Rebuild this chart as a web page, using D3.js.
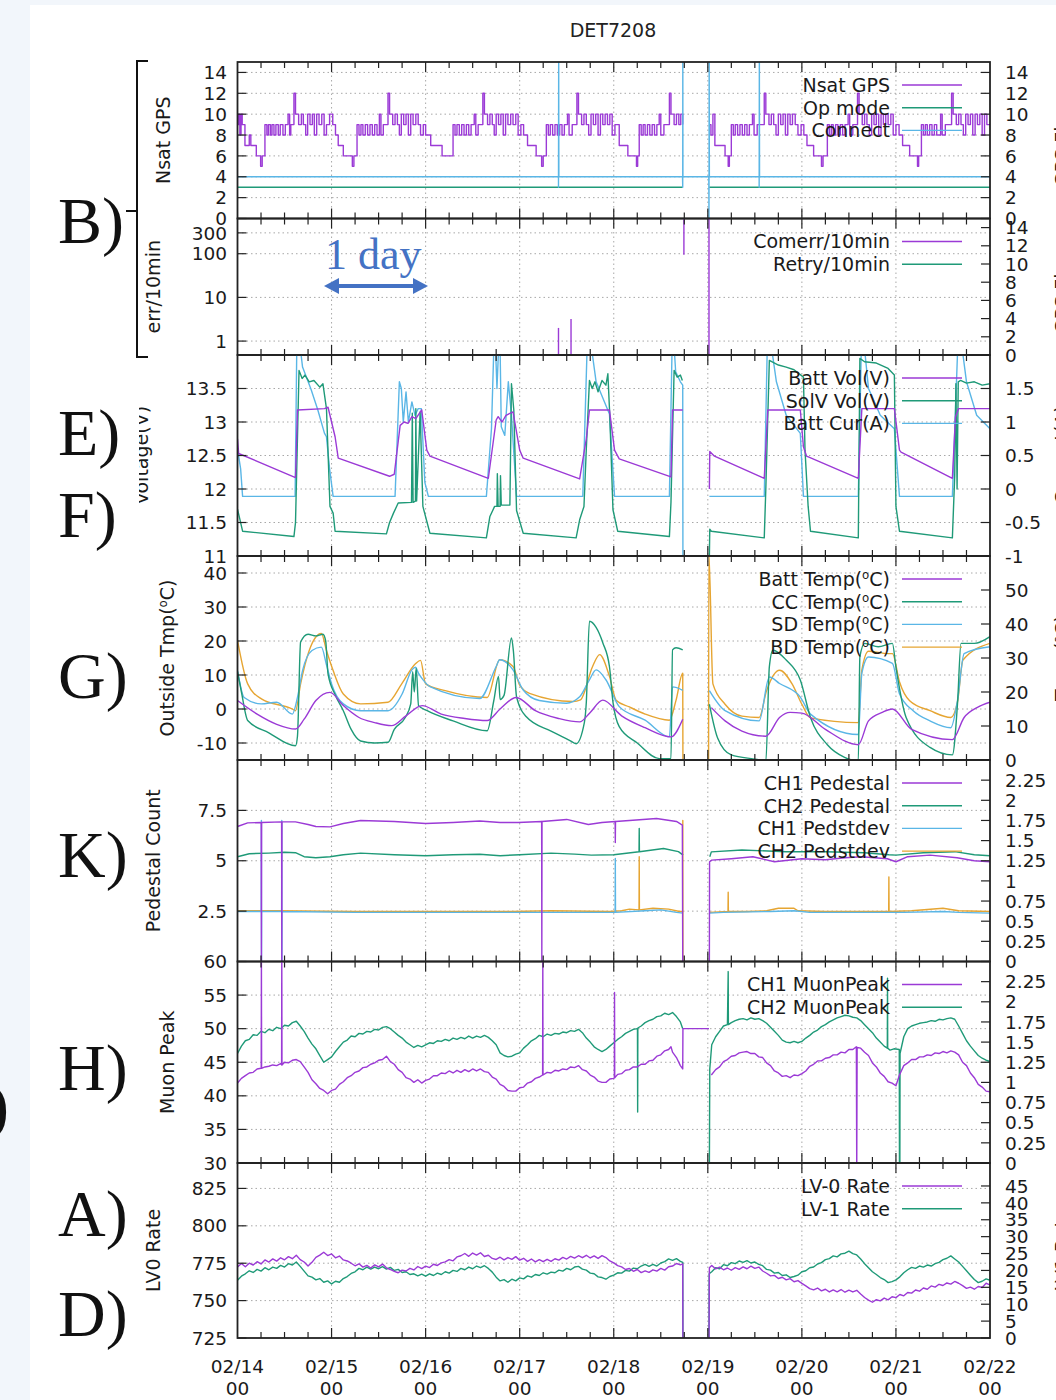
<!DOCTYPE html>
<html>
<head>
<meta charset="utf-8">
<script src="https://cdn.jsdelivr.net/npm/d3@7"></script>
<style>
  body { margin: 0; background: #f2f6fb; }
  text { font-family: "DejaVu Sans", sans-serif; }
</style>
</head>
<body>
<div id="chart"></div>
<script>
// ---- data (t = hours since 02/14 00) ----
var dayLabels = ["02/14", "02/15", "02/16", "02/17", "02/18", "02/19", "02/20", "02/21", "02/22"];

var nsatGPS = [[0,9],[0.3,10],[0.6,8],[0.9,10],[1.2,9],[1.9,7],[3.0,8],[3.4,7],[4.8,6],[5.9,5],[6.3,6],[7.0,9],[7.5,8],[7.9,9],[8.4,8],[8.8,9],[9.3,8],[9.8,9],[10.4,8],[10.9,9],[11.6,8],[12.2,9],[12.9,10],[13.3,8],[13.6,9],[14.4,12],[14.8,10],[15.6,9],[16.3,10],[16.8,9],[17.4,8],[17.9,10],[18.5,9],[19.1,10],[19.6,8],[20.2,10],[20.8,9],[21.5,10],[22.1,8],[22.7,9],[23.5,10],
  [24.3,9],[25.0,8],[25.7,7],[27.0,6],[29.3,5],[29.7,6],[30.5,9],[31.0,8],[31.5,9],[32.0,8],[32.6,9],[33.2,8],[33.8,9],[34.4,8],[35.0,9],[35.6,8],[36.2,10],[36.6,8],[37.2,9],[38.4,12],[38.8,10],[39.6,9],[40.2,10],[40.8,9],[41.3,8],[41.8,10],[42.4,9],[43.0,10],[43.6,8],[44.2,10],[44.8,9],[45.5,10],[46.1,9],[46.7,8],[47.4,9],
  [48.0,8],[49.3,7],[52.2,6],[55.0,9],[55.5,8],[56.0,9],[56.6,8],[57.2,9],[57.8,8],[58.4,9],[59.0,8],[59.6,9],[60.4,10],[60.8,8],[61.4,9],[62.6,12],[63.0,10],[63.8,9],[64.4,10],[65.0,9],[65.5,8],[66.0,10],[66.6,9],[67.2,10],[67.8,8],[68.4,10],[69.0,9],[69.7,10],[70.3,9],[71.0,10],[71.6,8],[72.3,9],[73.0,8],
  [74.0,7],[76.2,6],[77.6,5],[78.0,6],[78.8,9],[79.3,8],[79.8,9],[80.4,8],[81.0,9],[81.6,8],[82.2,9],[82.8,8],[83.4,9],[84.2,10],[84.6,8],[85.4,9],[86.6,12],[87.0,10],[87.8,9],[88.4,10],[89.0,9],[89.6,8],[90.2,10],[90.8,9],[91.4,10],[92.0,8],[92.6,10],[93.2,9],[93.8,10],[94.4,9],[95.0,10],[95.6,8],[96.3,9],
  [97.4,7],[99.6,6],[101.8,5],[102.1,6],[102.5,9],[103.0,8],[103.5,9],[104.0,8],[104.6,9],[105.2,8],[105.8,9],[106.4,8],[107.0,9],[107.6,10],[108.0,8],[108.8,9],[110.2,12],[110.6,10],[111.4,9],[112.0,10],[112.6,9],[113.1,10],[113.6,9],[113.65,null],
  [120.3,9],[120.8,8],[121.3,10],[121.8,7],[124.4,6],[125.2,5],[125.5,6],[126.0,9],[126.5,8],[127.0,9],[127.6,8],[128.2,9],[128.8,8],[129.4,9],[130.0,8],[130.6,9],[131.4,10],[131.8,8],[132.6,9],[134.4,12],[134.8,10],[135.6,9],[136.2,10],[136.8,9],[137.4,8],[138.0,10],[138.6,9],[139.2,10],[139.8,8],[140.4,10],[141.0,9],[141.6,10],[142.3,9],[143.0,8],[143.8,9],[144.5,8],
  [145.3,7],[147.0,6],[149.0,5],[149.4,6],[150.5,9],[151.0,8],[151.5,9],[152.0,8],[152.6,9],[153.2,8],[153.8,9],[154.4,8],[155.0,9],[155.8,10],[156.2,8],[157.0,9],[158.2,12],[158.6,10],[159.4,9],[160.0,10],[160.6,9],[161.2,8],[161.8,10],[162.4,9],[163.0,10],[163.6,8],[164.2,10],[164.8,9],[165.4,10],[166.0,9],[166.7,10],[167.3,8],[168.0,9],[168.8,8],
  [169.7,7],[171.5,6],[173.5,5],[173.8,6],[174.5,9],[175.0,8],[175.5,9],[176.0,8],[176.6,9],[177.2,8],[177.8,9],[178.4,8],[179.4,10],[179.8,8],[180.6,9],[182.2,12],[182.6,10],[183.4,9],[184.0,10],[184.6,9],[185.2,8],[185.8,10],[186.4,9],[187.0,10],[187.6,8],[188.2,10],[188.8,9],[189.4,10],[190.0,8],[190.6,10],[191.2,9],[192,9]];

var opMode = [[0,3],[113.6,3],[113.65,null],[120.35,3],[192,3]];
var connect = [[0,4],[81.9,4],[81.9,3],[81.95,16],[82.0,4],[113.55,4],[113.6,3],[113.62,16],[113.65,4],[120.25,4],[120.3,0],[120.35,16],[120.4,4],[133.1,4],[133.1,3],[133.15,16],[133.2,4],[192,4]];

// [t, low, high]
var comerrSpikes = [[81.9,0.4,2.0],[85.1,0.4,3.2],[113.9,95,700],[120.3,0.4,700]];

var battVol = [[0,12.75],[0.3,12.53],[14.8,12.17],[15.3,13.18],[22.2,13.2],[23.1,13.22],[24.9,12.78],[25.7,12.46],[38.8,12.19],[40.0,12.22],[41.5,12.95],[42.5,13.0],[43.5,12.98],[44.5,13.08],[45.5,13.05],[47.0,13.18],[48.3,12.58],[49.1,12.49],[64.0,12.16],[66.0,13.03],[66.5,13.08],[67.5,13.0],[68.5,13.1],[70.3,13.15],[72.0,12.58],[72.9,12.46],[87.3,12.15],[89.0,12.75],[89.8,13.18],[94.9,13.18],[96.2,12.58],[97.4,12.45],[110.6,12.18],[111.0,13.18],[113.6,13.18],[113.65,null],
  [120.4,12.0],[120.5,12.56],[121.7,12.49],[134.4,12.16],[135.3,13.18],[143.6,13.18],[144.4,12.63],[145.2,12.49],[158.4,12.16],[159.3,13.2],[167.6,13.2],[168.9,12.58],[169.3,12.55],[182.4,12.16],[183.2,13.08],[184,13.2],[192,13.2]];

var solVol = [[0,11.7],[1.3,11.37],[14.4,11.29],[14.8,11.5],[15.7,13.77],[16.5,13.65],[17.2,13.7],[18.3,13.6],[19.5,13.62],[21.0,13.52],[21.8,13.57],[22.7,13.2],[23.6,11.74],[24.4,11.64],[24.9,11.37],[38.0,11.33],[38.8,11.5],[39.8,11.64],[41.0,11.79],[44.4,11.8],[44.6,13.13],[44.8,11.8],[45.4,11.82],[45.5,13.2],[45.7,11.82],[46.6,13.15],[47.3,11.74],[49.1,11.34],[63.5,11.27],[64.4,11.59],[65.6,11.74],[66.2,11.74],[66.3,12.23],[66.5,11.74],[67.0,11.74],[67.1,12.2],[67.3,11.76],[69.5,11.76],[69.9,13.57],[70.5,13.18],[71.2,11.68],[72.9,11.34],[86.4,11.27],[87.3,11.54],[88.4,11.74],[89.0,12.6],[89.8,13.62],[90.5,13.5],[91.2,13.6],[92.0,13.45],[93.0,13.62],[94.0,13.55],[94.5,13.72],[95.0,13.08],[95.8,11.69],[97.0,11.37],[110.2,11.29],[110.6,11.8],[111.4,13.77],[112.2,13.67],[113.0,13.7],[113.5,13.62],[113.6,null],
  [120.4,11.0],[120.5,11.4],[120.9,11.37],[134.4,11.27],[134.8,12.0],[135.7,13.92],[138.0,13.85],[140.0,13.82],[142.0,13.78],[144.4,13.67],[144.8,12.58],[145.6,11.74],[146.2,11.37],[158.4,11.27],[158.8,13.95],[160,13.9],[163,13.88],[166,13.8],[167.6,13.7],[168.0,11.74],[168.9,11.37],[182.4,11.27],[183.0,12.2],[183.3,13.57],[183.6,12.0],[183.9,13.6],[184.5,13.62],[186,13.58],[188,13.6],[190,13.55],[192,13.57]];

var battCur = [[0,0.6],[0.8,0.3],[1.3,-0.11],[14.7,-0.11],[15.2,2.5],[16.6,1.82],[18.8,1.48],[20.5,1.18],[22.2,0.83],[22.7,0.78],[23.5,0.3],[24.4,-0.11],[40.2,-0.11],[41.3,1.6],[41.8,1.5],[42.3,1.0],[43.0,1.45],[43.6,1.0],[44.5,1.3],[45.3,1.1],[46.1,1.2],[46.9,1.2],[47.8,0.1],[48.7,-0.11],[63.5,-0.11],[64.8,0.9],[65.6,2.5],[66.2,1.5],[66.9,2.5],[67.3,0.93],[68.2,0.8],[69.1,1.6],[69.9,1.1],[71.2,-0.11],[88.1,-0.11],[89.4,2.5],[91.5,1.6],[94.9,1.12],[96.2,-0.11],[110.2,-0.11],[111.0,2.5],[111.8,1.75],[113.0,1.6],[113.6,1.55],[113.65,-1.1],[113.7,null],
  [120.4,-0.11],[134.4,-0.11],[135.3,2.5],[137.5,1.6],[140.0,1.1],[143.6,0.83],[144.4,-0.11],[158.4,-0.11],[159.3,2.5],[161,1.5],[164,1.1],[167.6,0.9],[168.9,-0.11],[182.4,-0.11],[184,2.5],[186,1.6],[188.6,1.1],[192,0.9]];

var battTemp = [[0,2.5],[5,-1.5],[10,-4.5],[14.8,-5.9],[17,-3],[20,2.5],[23.6,4.9],[27,1],[31,-2.5],[35,-4],[39.3,-4.9],[43,-2],[47.1,1.0],[52,-1.5],[58,-2.8],[63.7,-3.4],[67,0],[71.1,3.4],[76,-0.5],[82,-2.8],[87.3,-3.8],[90,-1],[93.2,2.6],[98,-2],[104,-5.5],[110.6,-8.2],[113.6,-3.0],[113.65,null],
  [120.9,0.4],[124.4,-3.5],[128.7,-6.5],[134.8,-8],[138.3,-2.5],[141,-1],[144,-1.2],[150,-6],[158.4,-10.5],[161,-3.5],[164.5,-1],[167.1,0],[172,-6],[182.4,-9],[185.4,-2.5],[188.8,0.5],[192,2]];

var ccTemp = [[0,11],[1,5],[2.6,-3.4],[8,-7],[14.8,-10.8],[15.3,-8],[16.1,19.7],[18,22],[20,21.5],[21.8,22],[22.5,20],[23.1,10.3],[25,4],[27,-0.5],[29,-6],[31.4,-9.4],[35,-10],[38.4,-9.8],[40,-6],[42.8,-2.5],[44.2,1.5],[44.7,11],[45.1,5],[45.6,12],[46.2,1],[48.4,-0.5],[55,-3.5],[63.7,-6.4],[65.4,2.5],[66.6,9.6],[67.0,2.8],[68.0,4],[69.9,20.9],[70.4,17],[71.2,3.6],[73.7,-2.3],[80,-6.5],[84.7,-9.2],[86.4,-10.2],[88.5,-4],[89.0,2],[89.8,25.8],[91.5,24],[93.2,19.5],[94.9,12.5],[95.8,2],[97.4,-5.2],[102,-10],[107.6,-14.6],[110.6,-14.6],[111.0,17.4],[111.9,18],[113.6,17.4],[113.65,null],
  [120.4,1.4],[122.5,-8.5],[126,-13.5],[133.1,-15],[134.8,-15.5],[135.7,12.4],[136.6,17.3],[140,14.4],[143.6,8.5],[146.2,-2.5],[150.5,-10.5],[154.9,-14.2],[158.4,-15.2],[158.8,15.3],[160,19.3],[163.5,18.3],[167.1,19.3],[168,12.3],[170.6,-2.5],[176.7,-11.3],[182.4,-13.5],[183.7,1.4],[184.6,19.3],[188,19.3],[192,21.3]];

var sdTemp = [[0,11.3],[1.7,3.4],[6.1,1.5],[10,2],[14,-1.5],[15.3,3.4],[16.6,11.3],[19,17.2],[21.4,18.2],[22.7,13],[24,7.4],[27,1.5],[31.4,-0.5],[38.4,-0.5],[42,4.4],[44.5,11.5],[45.4,12.3],[46.2,10.5],[47.4,8.5],[49.1,6.6],[61.8,3.1],[66,12.5],[66.9,14.5],[70.3,11.5],[72.9,5.6],[77,2.5],[83.9,1.7],[87.3,3.6],[89.8,8.6],[91.5,11.5],[94,8.6],[97.4,0.7],[104,-3.3],[110.2,-8.2],[111.0,6.5],[113.6,5.5],[113.65,null],
  [120.4,5.4],[124.4,-0.5],[133.1,-3.5],[135.7,9.4],[138.3,7.5],[143.6,3.5],[146.2,-1.5],[158.4,-7.5],[159.3,10.5],[161,15.3],[167.1,13.4],[168.9,4.5],[172.4,-0.5],[176.7,-3.5],[182,-5.5],[183.7,2.5],[185.4,16.3],[192,18.3]];

var bdTemp = [[0,20.2],[2.6,7.4],[6.1,3],[14,0],[14.8,-0.5],[16.1,7.4],[18.3,17.2],[21.4,22.2],[22.7,17.2],[24.4,11.3],[27,4.4],[31.4,1.5],[38.4,2],[41.9,7.4],[45.4,13.3],[46.7,14.3],[48,7.4],[53,5.4],[63.7,3.4],[66.9,14.5],[70.3,12.5],[72,7],[74.5,4.6],[85.6,2.2],[87.5,2.7],[90.6,12.5],[92.4,16],[94.9,9.6],[96.6,2.6],[100,0.6],[104,-1.5],[110.2,-3.3],[111.9,2.6],[113.6,10.5],[113.65,-16],[113.7,null],
  [120.2,-16],[120.25,46],[121.3,7.4],[124.4,1.4],[128.7,-2.1],[133.1,-2.5],[135,5.4],[138.3,11.4],[141.5,7.4],[144,1.4],[146.2,-2.6],[158.4,-4],[159.3,11.4],[161,17],[166,16.3],[167.1,16.3],[168.9,8],[171.5,2.4],[176.7,-0.5],[182,-2.5],[183.7,2],[185.1,14.4],[192,19.3]];

var ch1Ped = [[0,6.7],[2.6,6.88],[6.05,6.9],[6.1,0],[6.15,6.9],[11.25,6.93],[11.3,0],[11.35,6.93],[14.8,6.93],[18,6.8],[20,6.7],[23.6,6.68],[27,6.85],[31.4,7.0],[40,6.95],[48,6.85],[55,6.9],[61.8,6.97],[67,6.9],[71.6,6.9],[77.6,6.95],[77.65,0],[77.7,6.95],[84,7.05],[89.5,6.8],[93,6.9],[96.35,6.95],[96.4,5.9],[96.45,6.95],[100,7.0],[106.9,7.1],[112,6.95],[113.5,6.77],[113.6,0],[113.65,null],
  [120.4,0],[120.45,4.95],[121,5.03],[126,5.1],[131.5,5.2],[137,4.95],[144,5.1],[150,5.05],[155,5.15],[159.3,5.2],[165.8,5.1],[168,4.95],[171,5.2],[176.7,5.28],[183.6,5.15],[188,5.0],[192,4.95]];

var ch2Ped = [[0,5.2],[3,5.35],[8,5.38],[12,5.42],[14.8,5.4],[17,5.2],[20,5.15],[23.6,5.2],[27,5.3],[31.4,5.38],[40,5.3],[48,5.25],[55,5.3],[61.8,5.32],[67,5.25],[72,5.3],[80,5.38],[86,5.33],[90.3,5.28],[96,5.3],[102.45,5.45],[102.5,6.6],[102.55,5.45],[108.7,5.61],[112.5,5.45],[113.7,5.28],[113.75,null],
  [120.5,5.2],[120.9,5.44],[128.7,5.53],[140,5.45],[150,5.45],[160,5.4],[166.2,5.3],[168,5.28],[175,5.4],[183,5.45],[188,5.3],[192,5.25]];

var ch1Pedstdev = [[0,0.62],[6.05,0.62],[6.1,1.75],[6.13,0],[6.16,0.62],[11.25,0.62],[11.3,1.75],[11.33,0],[11.36,0.62],[30,0.61],[60,0.61],[80,0.61],[96.35,0.61],[96.4,1.28],[96.45,0.61],[104,0.63],[108,0.64],[112,0.61],[113.7,0.6],[113.75,null],
  [120.4,0.6],[124,0.61],[136,0.62],[142,0.63],[146,0.61],[170,0.61],[180,0.62],[184,0.61],[192,0.6]];

var ch2Pedstdev = [[0,0.63],[10,0.63],[30,0.62],[50,0.62],[70,0.62],[80,0.63],[95,0.62],[98,0.63],[100,0.65],[102.45,0.64],[102.5,1.3],[102.55,0.64],[106,0.66],[110,0.65],[112.8,0.62],[113.6,0.62],[113.62,1.75],[113.65,0],[113.7,null],
  [120.4,0.61],[125.15,0.62],[125.2,0.86],[125.25,0.62],[130,0.62],[135,0.63],[138,0.66],[142,0.66],[143,0.63],[150,0.62],[166.15,0.62],[166.2,1.05],[166.25,0.62],[172,0.63],[180,0.66],[184,0.63],[192,0.62]];

var ch1Muon = [[0,41.9],[1,42.6],[2,43.0],[3,43.4],[4,43.5],[5,44.0],[6,44.1],[6.05,44.1],[6.1,62],[6.15,44.1],[7,44.3],[8,44.4],[9,44.6],[10,44.5],[11,44.8],[11.25,44.6],[11.3,62],[11.35,44.6],[12,45.0],[13,44.9],[14,45.3],[15,45.4],[16,45.1],[17,44.3],[18,43.5],[19,42.4],[20,41.8],[21,41.1],[22,40.8],[23,40.3],[24,40.8],[25,41.0],[26,41.7],[27,42.1],[28,42.7],[29,43.0],[30,43.5],[31,43.7],[32,44.2],[33,44.3],[34,44.7],[35,44.9],[36,45.3],[37,45.4],[38,45.9],[39,45.1],[40,44.7],[41,43.9],[42,43.5],[43,42.7],[44,42.5],[45,42.0],[46,42.4],[47,41.9],[48,42.3],[49,42.5],[50,43.0],[51,43.0],[52,43.4],[53,43.3],[54,43.7],[55,43.4],[56,43.8],[57,43.5],[58,43.9],[59,43.6],[60,44.0],[61,43.7],[62,44.0],[63,43.6],[64,43.5],[65,42.8],[66,42.5],[67,41.7],[68,41.4],[69,40.8],[70,40.7],[71,40.7],[72,41.2],[73,41.3],[74,41.9],[75,42.1],[76,42.6],[77,42.8],[77.85,43.1],[77.9,62],[77.95,43.1],[79,43.5],[80,43.4],[81,43.8],[82,43.7],[83,44.0],[84,43.9],[85,44.3],[86,44.2],[87,44.5],[88,43.9],[89,43.7],[90,43.1],[91,42.8],[92,42.2],[93,42.0],[94,42.0],[95,42.5],[96,42.6],[96.15,42.7],[96.2,55.4],[96.25,42.7],[97,43.2],[98,43.3],[99,43.8],[100,43.9],[101,44.3],[102,44.3],[103,44.7],[104,44.7],[105,45.2],[106,45.3],[107,45.9],[108,46.1],[109,46.7],[110,46.9],[110.6,47.3],[111,46.5],[112,45.7],[113,44.5],[113.6,44],[113.65,50],[120.3,50],[120.35,null],
  [120.9,43.1],[122,43.9],[123,44.3],[124,45.1],[125,45.4],[126,45.9],[127,46.0],[128,46.4],[129,46.5],[130,46.6],[131,46.3],[132,46.3],[133,45.8],[134,45.7],[135,44.9],[136,44.5],[137,43.7],[138,43.4],[139,42.9],[140,43.0],[141,42.7],[142,43.1],[143,43.0],[144,43.3],[145,43.7],[146,44.4],[147,44.7],[148,45.2],[149,45.2],[150,45.6],[151,45.7],[152,46.1],[153,46.1],[154,46.5],[155,46.4],[156,46.9],[157,46.9],[157.9,47.3],[158,29],[158.1,47.2],[159,47.1],[160,46.5],[161,46.0],[162,44.9],[163,44.3],[164,43.4],[165,42.9],[166,42.1],[167,41.9],[168,41.5],[168.9,43.1],[170,44.5],[171,44.9],[172,45.4],[173,45.4],[174,45.8],[175,45.8],[176,46.1],[177,46.0],[178,46.4],[179,46.3],[180,46.6],[181,46.4],[182,46.7],[183,46.5],[184,46.1],[185,45.0],[186,44.5],[187,43.4],[188,42.7],[189,41.7],[190,41.3],[191,40.7],[192,40.6]];

var ch2Muon = [[0,46.3],[1,47.4],[2,48.2],[3,48.4],[4,49.1],[5,49.0],[6,49.6],[7,49.4],[8,49.9],[9,49.7],[10,50.2],[11,50.0],[12,50.5],[13,50.4],[14,50.9],[15,51.1],[16,50.4],[17,49.6],[18,48.6],[19,47.7],[20,47.0],[21,46.0],[22,45.0],[23,45.4],[24,45.8],[25,46.6],[26,47.3],[27,48.0],[28,48.3],[29,48.9],[30,48.8],[31,49.3],[32,49.2],[33,49.6],[34,49.5],[35,49.9],[36,49.8],[37,50.2],[38,50.3],[39,50.0],[40,49.5],[41,49.0],[42,48.6],[43,48.0],[44,47.6],[45,47.2],[46,47.5],[47,47.3],[48,47.6],[49,47.9],[50,47.8],[51,48.2],[52,48.1],[53,48.4],[54,48.2],[55,48.6],[56,48.4],[57,48.7],[58,48.5],[59,48.9],[60,48.6],[61,48.9],[62,48.7],[63,49.0],[64,48.7],[65,48.2],[66,47.6],[67,46.4],[68,46.0],[69,45.8],[70,45.9],[71,46.2],[72,46.4],[73,47.1],[74,47.6],[75,48.2],[76,48.5],[77,49.0],[78,48.8],[79,49.2],[80,49.0],[81,49.3],[82,49.2],[83,49.5],[84,49.4],[85,49.7],[86,49.6],[87,49.9],[88,49.4],[89,48.6],[90,48.0],[91,47.3],[92,46.9],[93,46.6],[94,46.9],[95,47.4],[96,47.9],[97,48.4],[98,48.8],[99,49.3],[100,49.6],[101,49.9],[102,50.0],[102.05,50.0],[102.1,37.6],[102.15,50.1],[103,50.4],[104,50.9],[105,51.2],[106,51.4],[107,51.8],[108,51.9],[109,52.3],[110,52.1],[111,52.4],[112,51.8],[113,51.0],[113.6,50.0],[113.65,null],
  [120.3,29],[120.4,29],[120.5,44],[121,47.6],[122,48.8],[123,49.6],[124,50.4],[125,50.6],[125.2,58.5],[125.25,50.6],[126,50.9],[127,51.2],[128,51.4],[129,51.5],[130,51.3],[131,51.6],[132,51.4],[133,51.5],[134,51.2],[135,50.8],[136,50.2],[137,49.6],[138,49.0],[139,48.3],[140,48.0],[141,47.9],[142,48.1],[143,47.9],[144,48.1],[145,48.6],[146,49.0],[147,49.5],[148,49.8],[149,50.3],[150,50.6],[151,51.0],[152,51.3],[153,51.6],[154,51.8],[155,52.0],[156,51.9],[157,51.7],[158,51.6],[159,51.2],[160,50.6],[161,50.0],[162,49.4],[163,48.6],[164,48.0],[165,47.4],[165.8,47.1],[165.85,57.5],[165.9,47.1],[166.5,46.8],[167.5,47.0],[168.85,46.9],[168.9,29],[169,29],[169.05,46.3],[170,48.8],[171,50.0],[172,50.4],[173,50.6],[174,50.8],[175,50.9],[176,51.0],[177,51.2],[178,51.1],[179,51.4],[180,51.3],[181,51.5],[182,51.6],[183,51.4],[184,50.4],[185,49.3],[186,48.2],[187,47.4],[188,46.7],[189,46.0],[190,45.6],[191,45.3],[192,45.1]];

var lv0Rate = [[0,772.5],[1,774.8],[2,772.6],[3,775.0],[4,773.8],[5,776.0],[6,774.5],[7,777.2],[8,775.8],[9,777.9],[10,776.4],[11,778.6],[12,777.3],[13,779.4],[14,778.0],[15,780.3],[16,777.4],[17,775.8],[18,773.2],[19,775.6],[20,778.9],[21,780.4],[22,782.3],[23,780.1],[24,781.2],[25,778.6],[26,779.8],[27,777.2],[28,776.5],[29,775.0],[30,773.3],[31,774.6],[32,772.4],[33,773.5],[34,771.8],[35,773.9],[36,772.6],[37,774.4],[38,771.9],[39,770.8],[40,769.5],[41,768.6],[42,770.4],[43,769.8],[44,771.6],[45,770.5],[46,772.8],[47,771.4],[48,773.0],[49,772.1],[50,774.3],[51,773.5],[52,775.2],[53,775.9],[54,777.4],[55,776.6],[56,779.2],[57,780.0],[58,781.5],[59,779.6],[60,781.8],[61,780.4],[62,782.0],[63,779.5],[64,780.3],[65,778.2],[66,777.5],[67,779.0],[68,777.2],[69,778.8],[70,777.6],[71,779.4],[72,777.0],[73,778.3],[74,776.2],[75,777.8],[76,775.9],[77,777.4],[78,776.0],[79,777.6],[80,776.2],[81,778.0],[82,777.1],[83,778.9],[84,777.8],[85,779.6],[86,778.4],[87,780.0],[88,778.7],[89,780.3],[90,778.5],[91,779.9],[92,778.2],[93,780.1],[94,778.8],[95,776.5],[96,775.2],[97,773.4],[98,772.6],[99,770.8],[100,771.5],[101,769.6],[102,770.8],[103,768.7],[104,769.9],[105,768.9],[106,770.6],[107,769.7],[108,771.5],[109,770.4],[110,772.6],[111,773.1],[112,774.8],[113,773.9],[113.6,774.5],[113.65,720],[113.7,null],
  [120.3,720],[120.4,771.9],[121,773.5],[122,771.2],[123,772.4],[124,770.6],[125,771.8],[126,770.3],[127,772.0],[128,770.9],[129,772.6],[130,771.3],[131,773.0],[132,771.6],[133,772.4],[134,769.8],[135,768.3],[136,766.5],[137,766.9],[138,764.8],[139,765.6],[140,763.9],[141,764.7],[142,762.6],[143,763.4],[144,761.5],[145,759.8],[146,758.0],[147,757.2],[148,758.4],[149,756.5],[150,757.6],[151,755.8],[152,757.2],[153,755.9],[154,757.4],[155,755.6],[156,757.0],[157,755.8],[158,756.9],[159,754.4],[160,752.1],[161,750.3],[162,748.9],[163,750.6],[164,749.8],[165,751.7],[166,750.5],[167,752.6],[168,752.0],[169,754.1],[170,753.2],[171,755.4],[172,755.0],[173,757.1],[174,756.3],[175,758.4],[176,757.6],[177,759.8],[178,759.0],[179,760.9],[180,760.1],[181,761.8],[182,761.0],[183,762.8],[184,761.6],[185,760.0],[186,758.2],[187,759.0],[188,757.6],[189,759.4],[190,758.8],[191,761.6],[192,760.5]];

var lv1Rate = [[0,17.1],[1,18.3],[2,19.0],[3,19.9],[4,19.4],[5,20.3],[6,19.8],[7,20.8],[8,20.2],[9,21.0],[10,20.6],[11,21.5],[12,21.0],[13,22.0],[14,21.6],[15,22.5],[16,21.2],[17,19.8],[18,18.4],[19,18.0],[20,17.2],[21,17.6],[22,16.5],[23,16.9],[24,16.0],[25,16.8],[26,16.5],[27,17.6],[28,18.2],[29,19.1],[30,19.6],[31,20.6],[32,20.2],[33,21.0],[34,20.4],[35,21.0],[36,20.5],[37,21.1],[38,20.4],[39,20.9],[40,20.0],[41,20.3],[42,19.4],[43,19.6],[44,18.8],[45,19.0],[46,18.4],[47,18.9],[48,18.3],[49,19.0],[50,18.5],[51,19.2],[52,18.8],[53,19.6],[54,19.2],[55,20.0],[56,19.7],[57,20.6],[58,20.2],[59,21.0],[60,20.5],[61,21.3],[62,20.8],[63,21.4],[64,20.6],[65,19.5],[66,18.0],[67,16.9],[68,17.3],[69,16.5],[70,17.4],[71,16.9],[72,17.8],[73,17.5],[74,18.4],[75,18.0],[76,18.8],[77,18.5],[78,19.3],[79,18.9],[80,19.5],[81,19.3],[82,20.1],[83,19.8],[84,20.6],[85,20.2],[86,21.0],[87,21.2],[88,20.4],[89,20.1],[90,19.2],[91,19.0],[92,18.1],[93,17.9],[94,17.4],[95,18.2],[96,18.6],[97,19.3],[98,19.2],[99,20.0],[100,19.8],[101,20.7],[102,20.5],[103,21.3],[104,21.8],[105,21.2],[106,21.8],[107,21.3],[108,22.2],[109,22.6],[110,23.4],[111,23.0],[112,23.5],[113,22.7],[113.6,22.4],[113.65,-2],[113.7,null],
  [120.3,-2],[120.35,19.0],[121,19.6],[122,20.8],[123,20.5],[124,21.7],[125,21.4],[126,22.3],[127,22.0],[128,22.8],[129,22.4],[130,22.9],[131,22.2],[132,22.5],[133,21.8],[134,21.4],[135,20.3],[136,20.1],[137,19.2],[138,19.4],[139,18.5],[140,18.7],[141,17.9],[142,18.2],[143,18.6],[144,19.6],[145,19.9],[146,20.8],[147,21.0],[148,21.9],[149,22.3],[150,23.2],[151,23.5],[152,24.3],[153,24.0],[154,24.9],[155,25.1],[156,25.7],[157,25.0],[158,24.6],[159,23.4],[160,22.0],[161,20.8],[162,19.6],[163,18.8],[164,17.9],[165,17.3],[166,16.4],[167,16.7],[168,17.2],[169,18.1],[170,19.3],[171,20.2],[172,20.9],[173,20.6],[174,21.3],[175,21.0],[176,21.6],[177,21.3],[178,22.0],[179,22.4],[180,23.2],[181,23.6],[182,24.3],[183,23.4],[184,22.5],[185,21.2],[186,19.9],[187,18.6],[188,17.3],[189,16.4],[190,16.8],[191,17.5],[192,17.1]];

// ---- colours ----
var purple = "#9b3ad6", green = "#1f9a78", blue = "#5ab6e6", orange = "#e6a532";

// ---- page ----
var svg = d3.select("#chart").append("svg").attr("width", 1056).attr("height", 1400);
svg.append("rect").attr("width", 1056).attr("height", 1400).attr("fill", "#f2f6fb");
svg.append("rect").attr("x", 30).attr("y", 5).attr("width", 1026).attr("height", 1395).attr("fill", "#fff");
var defs = svg.append("defs");

var xScale = d3.scaleLinear().domain([0, 192]).range([237.5, 990]);
var xLeft = 237.5, xRight = 990;

function lin(dom, top, bottom) { return d3.scaleLinear().domain(dom).range([bottom, top]); }

var panels = [
  { top: 62, bottom: 218.5, left: [0, 15], lt: d3.range(0, 15, 2), right: [0, 15], rt: d3.range(0, 15, 2),
    ylabel: "Nsat GPS", lx: 170,
    series: [{d: nsatGPS, c: purple, step: true}, {d: opMode, c: green}, {d: connect, c: blue}],
    legend: [["Nsat GPS", purple], ["Op mode", green], ["Connect", blue]] },
  { top: 218.5, bottom: 355, log: true, left: [0.48, 640], lt: [1, 10, 100, 300], right: [0, 15], rt: d3.range(0, 15, 2),
    ylabel: "err/10min", lx: 160, series: [],
    legend: [["Comerr/10min", purple], ["Retry/10min", green]] },
  { top: 355, bottom: 556, left: [11, 14], lt: [11, 11.5, 12, 12.5, 13, 13.5], right: [-1, 2], rt: [-1, -0.5, 0, 0.5, 1, 1.5],
    ylabel: "Voltage(V)", lx: 148, clipLabel: 139,
    series: [{d: battCur, c: blue, r: true}, {d: solVol, c: green}, {d: battVol, c: purple}],
    legend: [["Batt Vol(V)", purple], ["SolV Vol(V)", green], ["Batt Cur(A)", blue]] },
  { top: 556, bottom: 760, left: [-15, 45], lt: [-10, 0, 10, 20, 30, 40], right: [0, 60], rt: [0, 10, 20, 30, 40, 50],
    ylabel: "Outside Tmp(°C)", lx: 174, smooth: true,
    series: [{d: bdTemp, c: orange}, {d: sdTemp, c: blue}, {d: ccTemp, c: green}, {d: battTemp, c: purple}],
    legend: [["Batt Temp(°C)", purple], ["CC Temp(°C)", green], ["SD Temp(°C)", blue], ["BD Temp(°C)", orange]] },
  { top: 760, bottom: 961.5, left: [0, 10], lt: [2.5, 5, 7.5], right: [0, 2.5], rt: d3.range(0, 2.3, 0.25),
    ylabel: "Pedestal Count", lx: 160,
    series: [{d: ch2Pedstdev, c: orange, r: true}, {d: ch1Pedstdev, c: blue, r: true}, {d: ch2Ped, c: green}, {d: ch1Ped, c: purple}],
    legend: [["CH1 Pedestal", purple], ["CH2 Pedestal", green], ["CH1 Pedstdev", blue], ["CH2 Pedstdev", orange]] },
  { top: 961.5, bottom: 1163, left: [30, 60], lt: [30, 35, 40, 45, 50, 55, 60], right: [0, 2.5], rt: d3.range(0, 2.3, 0.25),
    ylabel: "Muon Peak", lx: 174,
    series: [{d: ch2Muon, c: green}, {d: ch1Muon, c: purple}],
    legend: [["CH1 MuonPeak", purple], ["CH2 MuonPeak", green]] },
  { top: 1163, bottom: 1338, left: [725, 842], lt: [725, 750, 775, 800, 825], right: [0, 51.8], rt: d3.range(0, 46, 5),
    ylabel: "LV0 Rate", lx: 160,
    series: [{d: lv1Rate, c: green, r: true}, {d: lv0Rate, c: purple}],
    legend: [["LV-0 Rate", purple], ["LV-1 Rate", green]] }
];

// text with a raised "o" for degrees
function richText(sel, str) {
  var parts = str.split("°");
  sel.append("tspan").text(parts[0]);
  if (parts.length > 1) {
    sel.append("tspan").attr("dy", -7).attr("font-size", "0.62em").text("o");
    sel.append("tspan").attr("dy", 7).text(parts[1]);
  }
}

// title
svg.append("text").attr("x", 613).attr("y", 37).attr("text-anchor", "middle")
  .attr("font-size", "19px").attr("fill", "#222").text("DET7208");

panels.forEach(function(p, i) {
  var yL = p.log ? d3.scaleLog().domain(p.left).range([p.bottom, p.top]) : lin(p.left, p.top, p.bottom);
  var yR = lin(p.right, p.top, p.bottom);
  var g = svg.append("g");

  defs.append("clipPath").attr("id", "clip" + i).append("rect")
    .attr("x", xLeft).attr("y", p.top).attr("width", xRight - xLeft).attr("height", p.bottom - p.top);

  // grid
  var grid = g.append("g").attr("stroke", "#a8a8a8").attr("stroke-width", 1).attr("stroke-dasharray", "1.5,3");
  d3.range(24, 192, 24).forEach(function(h) {
    grid.append("line").attr("x1", xScale(h)).attr("x2", xScale(h)).attr("y1", p.top).attr("y2", p.bottom);
  });
  p.lt.forEach(function(v) {
    var y = yL(v);
    if (Math.abs(y - p.top) < 2 || Math.abs(y - p.bottom) < 2) return;
    grid.append("line").attr("x1", xLeft).attr("x2", xRight).attr("y1", y).attr("y2", y);
  });

  // data
  var plot = g.append("g").attr("clip-path", "url(#clip" + i + ")").attr("fill", "none");
  p.series.forEach(function(s) {
    var ys = s.r ? yR : yL;
    var line = d3.line().defined(function(d) { return d[1] != null; })
      .x(function(d) { return xScale(d[0]); }).y(function(d) { return ys(d[1]); });
    if (s.step) line.curve(d3.curveStepAfter);
    else if (p.smooth) line.curve(d3.curveMonotoneX);
    plot.append("path").datum(s.d).attr("d", line)
      .attr("stroke", s.c).attr("stroke-width", 1.4).attr("stroke-linejoin", "round");
  });
  if (i === 1) {
    plot.selectAll(".spike").data(comerrSpikes).enter().append("line")
      .attr("x1", function(d) { return xScale(d[0]); }).attr("x2", function(d) { return xScale(d[0]); })
      .attr("y1", function(d) { return yL(d[1]); }).attr("y2", function(d) { return yL(d[2]); })
      .attr("stroke", purple).attr("stroke-width", 1.4);
  }

  // x ticks (top and bottom, inward)
  var tk = g.append("g").attr("stroke", "#222").attr("stroke-width", 1.2);
  d3.range(6, 192, 6).forEach(function(h) {
    var len = h % 24 === 0 ? 10 : 6;
    tk.append("line").attr("x1", xScale(h)).attr("x2", xScale(h)).attr("y1", p.top).attr("y2", p.top + len);
    tk.append("line").attr("x1", xScale(h)).attr("x2", xScale(h)).attr("y1", p.bottom).attr("y2", p.bottom - len);
  });
  // y ticks
  p.lt.forEach(function(v) {
    tk.append("line").attr("x1", xLeft).attr("x2", xLeft + 9).attr("y1", yL(v)).attr("y2", yL(v));
  });
  p.rt.forEach(function(v) {
    tk.append("line").attr("x1", xRight - 9).attr("x2", xRight).attr("y1", yR(v)).attr("y2", yR(v));
  });

  // tick labels
  var lab = g.append("g").attr("font-size", "18.5px").attr("fill", "#1a1a1a");
  p.lt.forEach(function(v) {
    lab.append("text").attr("x", 227).attr("y", yL(v)).attr("dy", "0.36em").attr("text-anchor", "end").text(String(v));
  });
  p.rt.forEach(function(v) {
    lab.append("text").attr("x", 1005).attr("y", yR(v)).attr("dy", "0.36em").text(String(+v.toFixed(2)));
  });

  // frame
  g.append("rect").attr("x", xLeft).attr("y", p.top).attr("width", xRight - xLeft).attr("height", p.bottom - p.top)
    .attr("fill", "none").attr("stroke", "#222").attr("stroke-width", 1.8);

  // legend
  var lg = g.append("g").attr("font-size", "19px").attr("fill", "#1a1a1a");
  p.legend.forEach(function(l, j) {
    var y = p.top + 23 + j * 22.7;
    var t = lg.append("text").attr("x", 890).attr("y", y).attr("dy", "0.36em").attr("text-anchor", "end");
    richText(t, l[0]);
    lg.append("line").attr("x1", 902).attr("x2", 962).attr("y1", y).attr("y2", y)
      .attr("stroke", l[1]).attr("stroke-width", 1.4);
  });

  // y label (the voltage one is partly hidden, as in the source picture)
  var cy = (p.top + p.bottom) / 2;
  var holder = svg;
  if (p.clipLabel) {
    defs.append("clipPath").attr("id", "clipLabel" + i).append("rect")
      .attr("x", p.clipLabel).attr("y", p.top).attr("width", 60).attr("height", p.bottom - p.top);
    holder = svg.append("g").attr("clip-path", "url(#clipLabel" + i + ")");
  }
  var yl = holder.append("text").attr("transform", "translate(" + p.lx + "," + cy + ") rotate(-90)")
    .attr("text-anchor", "middle").attr("font-size", "19px").attr("fill", "#1a1a1a");
  richText(yl, p.ylabel);
});

// x axis labels
var xl = svg.append("g").attr("font-size", "18.5px").attr("fill", "#1a1a1a").attr("text-anchor", "middle");
dayLabels.forEach(function(s, i) {
  xl.append("text").attr("x", xScale(i * 24)).attr("y", 1373).text(s);
  xl.append("text").attr("x", xScale(i * 24)).attr("y", 1395).text("00");
});

// right-hand axis titles, mostly beyond the page edge
var rightLabels = [["GPS Flags", 140], ["GPS Flags", 287], ["Current(A)", 455], ["Temp(°C)", 658], ["LV1 Rate", 1250]];
rightLabels.forEach(function(r) {
  var t = svg.append("text").attr("transform", "translate(1069," + r[1] + ") rotate(-90)")
    .attr("text-anchor", "middle").attr("font-size", "19px").attr("fill", "#1a1a1a");
  richText(t, r[0]);
});

// panel letters
var letters = [["B)", 243], ["E)", 455], ["F)", 537], ["G)", 698], ["K)", 877], ["H)", 1090], ["A)", 1236], ["D)", 1336]];
var lt = svg.append("g").attr("font-size", "66px").attr("fill", "#111");
letters.forEach(function(l) {
  lt.append("text").attr("x", 58).attr("y", l[1]).style("font-family", "'Liberation Serif', serif").text(l[0]);
});
lt.append("text").attr("x", -13).attr("y", 1128).style("font-family", "'Liberation Serif', serif").text(")");

// bracket for B)
svg.append("path").attr("d", "M148,61H137V211H126M137,211V357H148")
  .attr("fill", "none").attr("stroke", "#111").attr("stroke-width", 2);

// 1 day annotation
svg.append("text").attr("x", 325).attr("y", 269).style("font-family", "'Liberation Serif', serif")
  .attr("font-size", "44px").attr("fill", "#4472c4").text("1 day");
svg.append("line").attr("x1", 334).attr("x2", 418).attr("y1", 286).attr("y2", 286)
  .attr("stroke", "#4472c4").attr("stroke-width", 4);
svg.append("path").attr("d", "M324,286L339,278L339,294Z M428,286L413,278L413,294Z").attr("fill", "#4472c4");
</script>
</body>
</html>
